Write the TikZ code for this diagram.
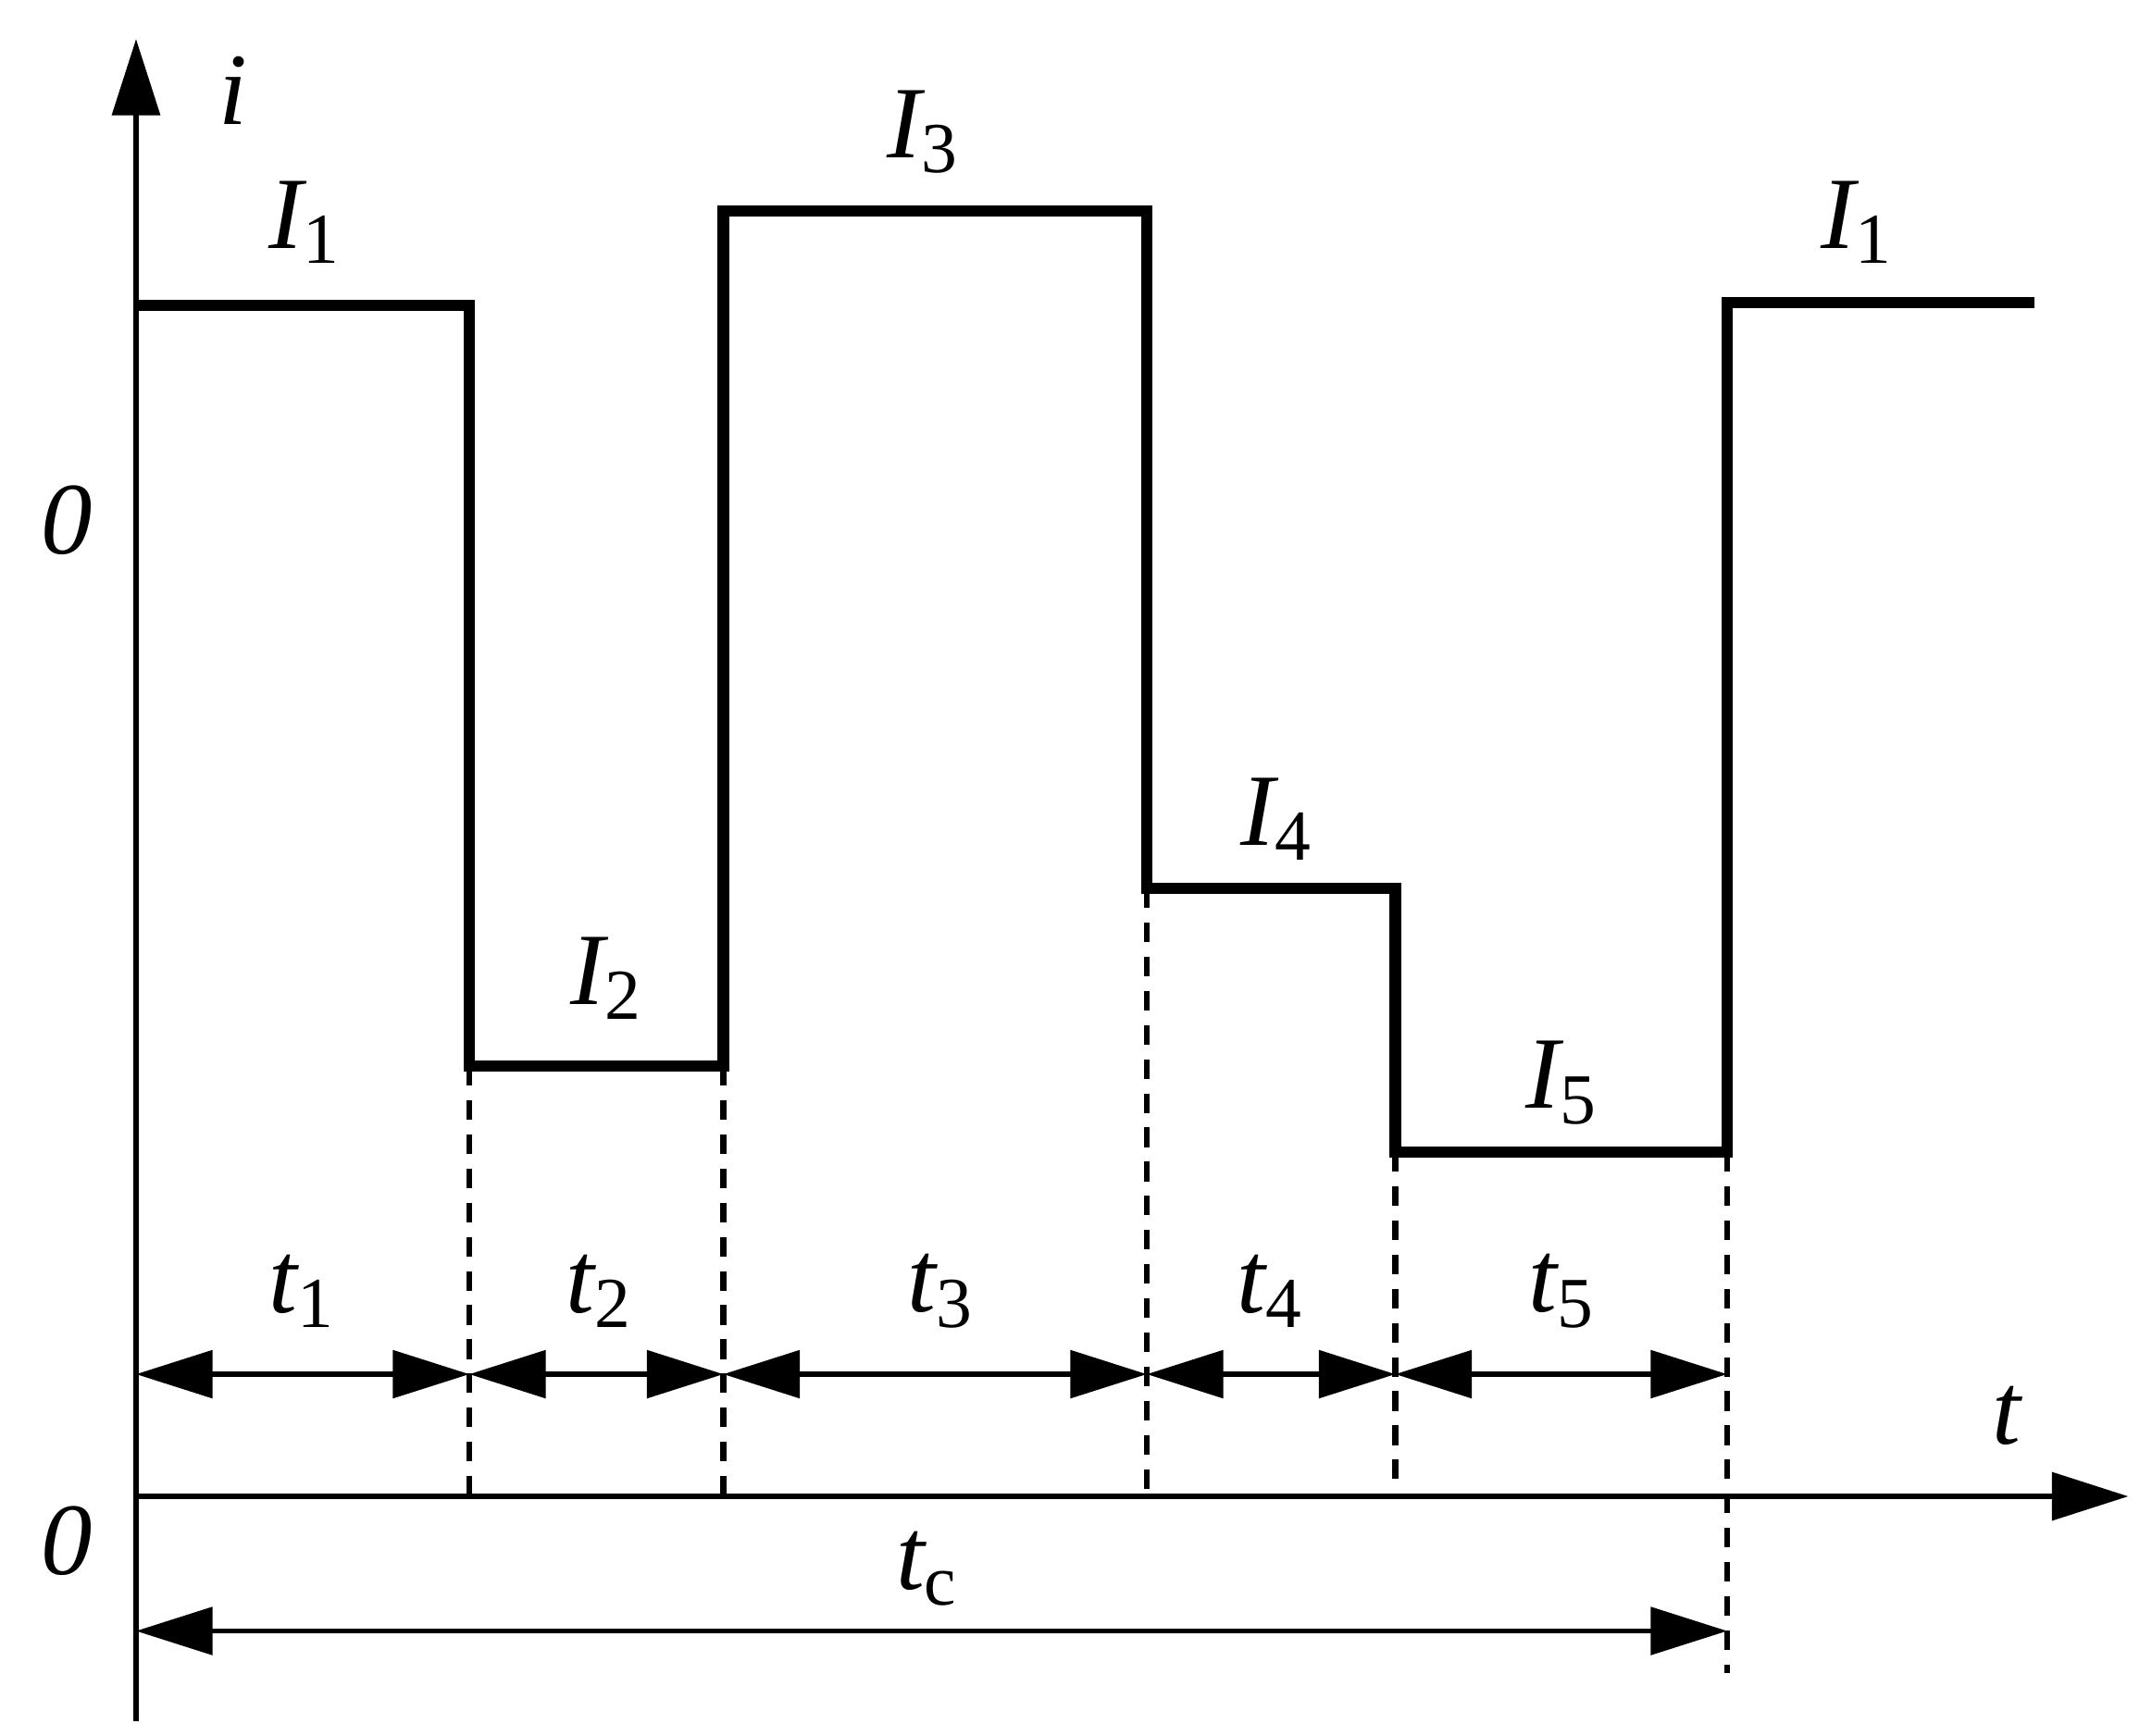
\documentclass[tikz,border=0pt]{standalone}
\usepackage{fontspec}
\setmainfont{Liberation Serif}
\usetikzlibrary{arrows.meta}
\begin{document}
\begin{tikzpicture}[x = 0.01cm, y = -0.01cm,
		axis/.style = {line width = 1.2pt, -{Triangle[length = 0.55cm, width = 0.34cm]}},
		wave/.style = {line width = 2.4pt, line join = miter},
		guide/.style = {line width = 1.3pt, dash pattern = on 4pt off 3pt},
		span/.style = {line width = 1pt, {Triangle[length = 0.55cm, width = 0.34cm]}-{Triangle[length = 0.55cm, width = 0.34cm]}, shorten <= 0pt, shorten >= 0pt},
		lbl/.style = {font = \fontsize{21}{24}\selectfont\itshape, inner sep = 0pt},
		]
	
		\useasboundingbox (0, 0) rectangle (1550, 1250);
		
		% Axes
		\coordinate (origin) at (98, 1078);
		\coordinate (yEnd) at (98, 28);
		\coordinate (xEnd) at (1533, 1078);
		\draw[line width = 1.2pt] (98, 1240) -- (origin);
		\draw[axis] (origin) -- (yEnd);
		\draw[axis] (origin) -- (xEnd);
		\node[lbl] (iLabel) at (168, 65) {i};
		\node[lbl] (tLabel) at (1445, 1020) {t};
		\node[lbl] (zeroTop) at (48, 375) {0};
		\node[lbl] (zeroBottom) at (48, 1110) {0};
		
		% Current waveform
		\draw[wave] (98, 220) -- (338, 220) -- (338, 768) -- (521, 768) -- (521, 152)
			-- (826, 152) -- (826, 640) -- (1005, 640) -- (1005, 830) -- (1244, 830)
			-- (1244, 218) -- (1465, 218);
		
		% Step borders
		\draw[guide] (338, 768) -- (338, 1078);
		\draw[guide] (521, 768) -- (521, 1078);
		\draw[guide] (826, 640) -- (826, 1078);
		\draw[guide] (1005, 830) -- (1005, 1078);
		\draw[guide] (1244, 830) -- (1244, 1205);
		
		% Interval markers
		\coordinate (m0) at (98, 990);
		\coordinate (m1) at (338, 990);
		\coordinate (m2) at (521, 990);
		\coordinate (m3) at (826, 990);
		\coordinate (m4) at (1005, 990);
		\coordinate (m5) at (1244, 990);
		\draw[span] (m0) -- (m1);
		\draw[span] (m1) -- (m2);
		\draw[span] (m2) -- (m3);
		\draw[span] (m3) -- (m4);
		\draw[span] (m4) -- (m5);
		\coordinate (c0) at (98, 1175);
		\coordinate (c1) at (1244, 1175);
		\draw[span] (c0) -- (c1);
		
		% Labels
		\node[lbl] (t1) at (218, 930) {t\textsubscript{\upshape 1}};
		\node[lbl] (t2) at (432, 930) {t\textsubscript{\upshape 2}};
		\node[lbl] (t3) at (678, 930) {t\textsubscript{\upshape 3}};
		\node[lbl] (t4) at (915, 930) {t\textsubscript{\upshape 4}};
		\node[lbl] (t5) at (1125, 930) {t\textsubscript{\upshape 5}};
		\node[lbl] (tc) at (668, 1130) {t\textsubscript{\upshape c}};
		\node[lbl] (I1a) at (220, 160) {I\textsubscript{\upshape 1}};
		\node[lbl] (I2) at (437, 705) {I\textsubscript{\upshape 2}};
		\node[lbl] (I3) at (665, 95) {I\textsubscript{\upshape 3}};
		\node[lbl] (I4) at (920, 590) {I\textsubscript{\upshape 4}};
		\node[lbl] (I5) at (1125, 780) {I\textsubscript{\upshape 5}};
		\node[lbl] (I1b) at (1338, 160) {I\textsubscript{\upshape 1}};
		
	\end{tikzpicture}
\end{document}
